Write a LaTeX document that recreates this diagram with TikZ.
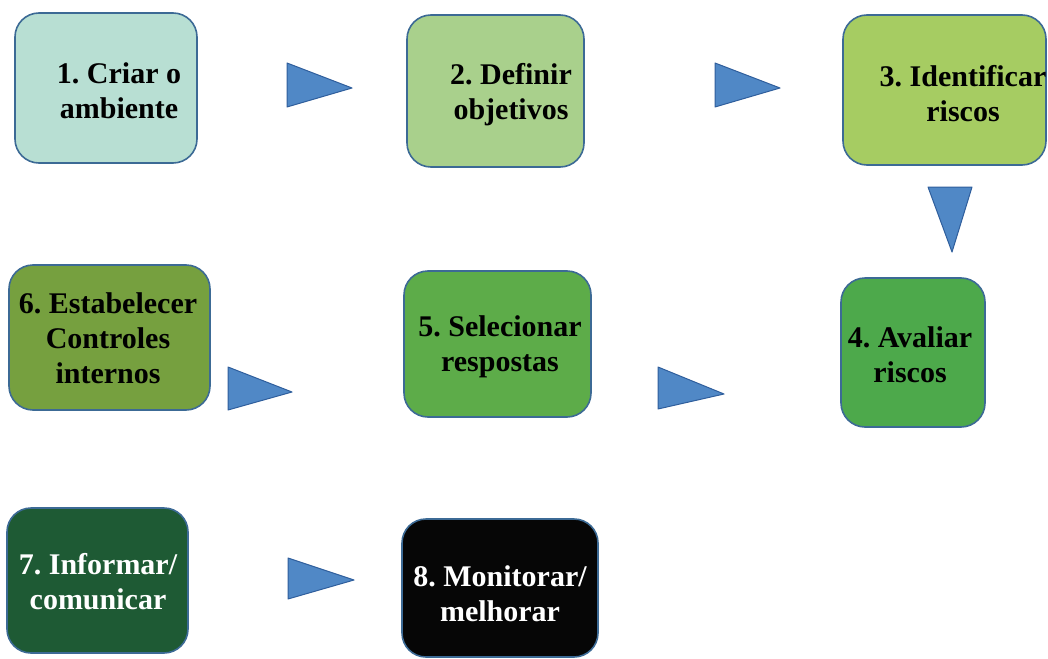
\documentclass[tikz,border=0pt]{standalone}
\usepackage{fontspec}
\setmainfont{Liberation Serif}
\usepackage{xcolor}
\usepackage{tikz}
\frenchspacing

\definecolor{stepone}{HTML}{B8DFD3}
\definecolor{steptwo}{HTML}{A9D08C}
\definecolor{stepthree}{HTML}{A6CC62}
\definecolor{stepfour}{HTML}{4DA94B}
\definecolor{stepfive}{HTML}{5DAC49}
\definecolor{stepsix}{HTML}{76A03F}
\definecolor{stepseven}{HTML}{1E5A34}
\definecolor{stepeight}{HTML}{060606}
\definecolor{boxedge}{HTML}{3C6A95}
\definecolor{triblue}{HTML}{5088C6}
\definecolor{triedge}{HTML}{2F5E9C}

\begin{document}
\begin{tikzpicture}[x=1pt, y=-1pt,
		box/.style={draw=boxedge, line width=1.6pt, rounded corners=24pt, inner sep=0pt},
		txt/.style={align=center, font=\fontsize{30}{35}\selectfont\bfseries},
		tri/.style={draw=triedge, fill=triblue, line width=1pt, line join=round}]
	\useasboundingbox (0, 0) rectangle (1048, 658);
	
	% caixas
	\node[box, fill=stepone, minimum width=182pt, minimum height=150pt] (B1) at (106, 88) {};
	\node[box, fill=steptwo, minimum width=177pt, minimum height=152pt] (B2) at (495.5, 91) {};
	\node[box, fill=stepthree, minimum width=203pt, minimum height=150pt] (B3) at (944.5, 90) {};
	\node[box, fill=stepfour, minimum width=144pt, minimum height=149pt] (B4) at (913, 352.5) {};
	\node[box, fill=stepfive, minimum width=187pt, minimum height=146pt] (B5) at (497.5, 344) {};
	\node[box, fill=stepsix, minimum width=201pt, minimum height=145pt] (B6) at (109.5, 337.5) {};
	\node[box, fill=stepseven, minimum width=181pt, minimum height=145pt] (B7) at (97.5, 580.5) {};
	\node[box, fill=stepeight, minimum width=196pt, minimum height=138pt] (B8) at (500, 588) {};
	
	% textos
	\node[txt] (T1) at (119, 91) {1. Criar o\\ambiente};
	\node[txt] (T2) at (511, 95) {2. Definir\\objetivos};
	\node[txt] (T3) at (963, 94) {3. Identificar\\riscos};
	\node[txt] (T4) at (910, 355) {4. Avaliar\\riscos};
	\node[txt] (T5) at (500, 347) {5. Selecionar\\respostas};
	\node[txt] (T6) at (108, 338) {6. Estabelecer\\Controles\\internos};
	\node[txt, text=white] (T7) at (98, 582) {7. Informar/\\comunicar};
	\node[txt, text=white] (T8) at (500, 594) {8. Monitorar/\\melhorar};
	
	% setas
	\draw[tri] (287, 63) -- (287, 107) -- (352, 88) -- cycle;
	\draw[tri] (715, 63) -- (715, 107) -- (780, 88) -- cycle;
	\draw[tri] (928, 187) -- (972, 187) -- (952, 252) -- cycle;
	\draw[tri] (658, 367) -- (658, 409) -- (724, 394) -- cycle;
	\draw[tri] (228, 367) -- (228, 410) -- (292, 392) -- cycle;
	\draw[tri] (288, 558) -- (288, 599) -- (354, 580) -- cycle;
\end{tikzpicture}
\end{document}
